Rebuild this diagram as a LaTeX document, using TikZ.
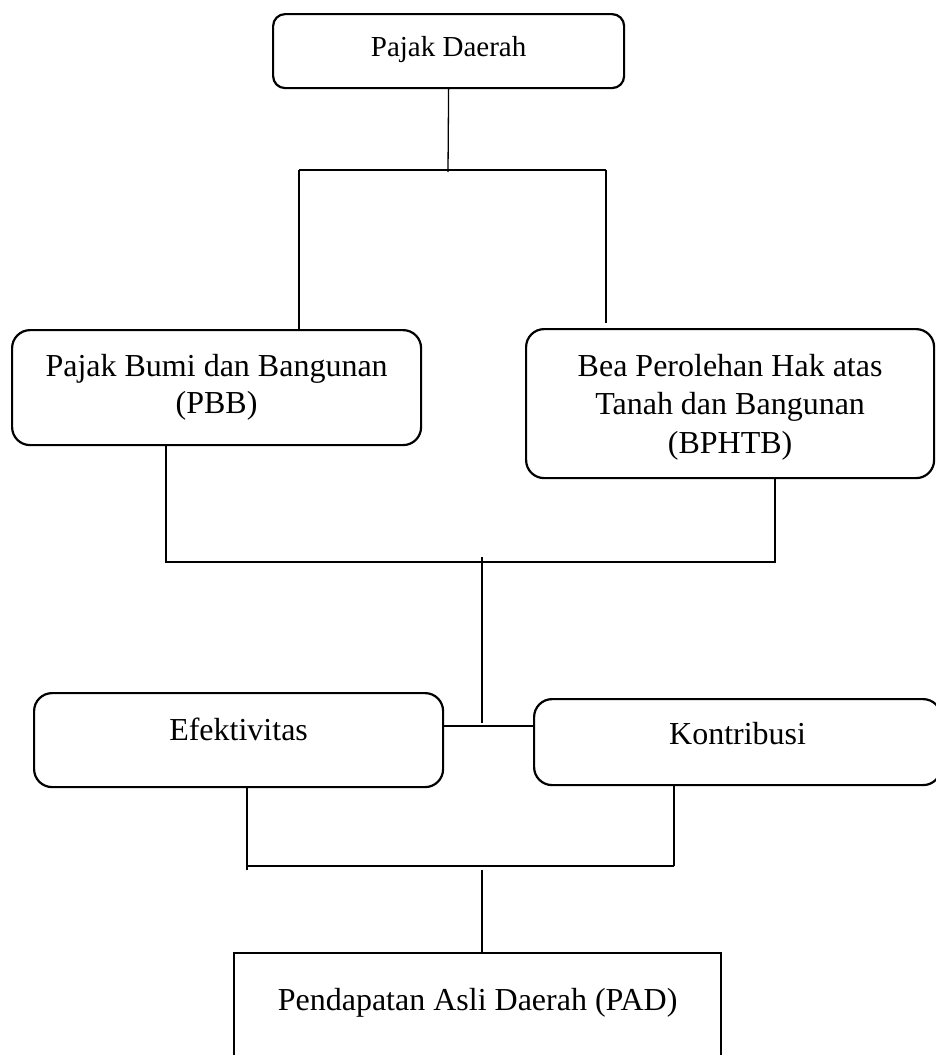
\documentclass[tikz,border=0pt]{standalone}
\usepackage{fontspec}
\setmainfont{Liberation Serif}
\begin{document}
\begin{tikzpicture}[x=1pt,y=-1pt,
  box/.style={draw, line width=2.2pt, rounded corners=18pt, inner sep=0pt, anchor=north west,
    font=\fontsize{32}{37}\selectfont},
  link/.style={line width=1.3pt}]
\useasboundingbox (0,0) rectangle (935,1055);
% boxes
\node[box, rounded corners=12pt, minimum width=351pt, text height=42pt, text depth=32pt,
  font=\fontsize{29}{34}\selectfont] (pd) at (272,13) {Pajak Daerah};
\node[box, minimum width=409pt, text height=46pt, text depth=69pt] (pbb) at (11,329)
  {\begin{tabular}[t]{@{}c@{}}Pajak Bumi dan Bangunan\\(PBB)\end{tabular}};
\node[box, minimum width=408pt, text height=47pt, text depth=102pt,
  font=\fontsize{32}{38.5}\selectfont] (bphtb) at (525,328)
  {\begin{tabular}[t]{@{}c@{}}Bea Perolehan Hak atas\\Tanah dan Bangunan\\(BPHTB)\end{tabular}};
\node[box, minimum width=409pt, text height=47pt, text depth=47pt] (ef) at (33,692) {Efektivitas};
\node[box, minimum width=407pt, text height=45pt, text depth=41pt] (ko) at (533,698) {Kontribusi};
\node[box, sharp corners, minimum width=487pt, text height=57pt, text depth=90pt] (pad) at (233,952)
  {Pendapatan Asli Daerah (PAD)};
% top connectors
\coordinate (t1) at (448,172);
\draw[link] (pd.south) -- (t1);
\coordinate (a1) at (299,170);
\coordinate (a2) at (606,170);
\coordinate (a3) at (606,323);
\draw[link] (a1) -- (a2);
\draw[link] (a1) -- (a1 |- pbb.north);
\draw[link] (a2) -- (a3);
% middle connectors
\coordinate (b1) at (166,562);
\coordinate (b2) at (775,562);
\draw[link] (b1 |- pbb.south) -- (b1) -- (b2) -- (b2 |- bphtb.south);
\coordinate (c1) at (482,557);
\coordinate (c2) at (482,723);
\draw[link] (c1) -- (c2);
\coordinate (m) at (482,726);
\draw[link] (m -| ef.east) -- (m -| ko.west);
% bottom connectors
\coordinate (d0) at (247,870);
\coordinate (d1) at (247,866);
\coordinate (d2) at (674,866);
\draw[link] (d0 |- ef.south) -- (d0);
\draw[link] (d1) -- (d2);
\draw[link] (d2 |- ko.south) -- (d2);
\coordinate (e1) at (482,870);
\draw[link] (e1) -- (e1 |- pad.north);
\end{tikzpicture}
\end{document}
